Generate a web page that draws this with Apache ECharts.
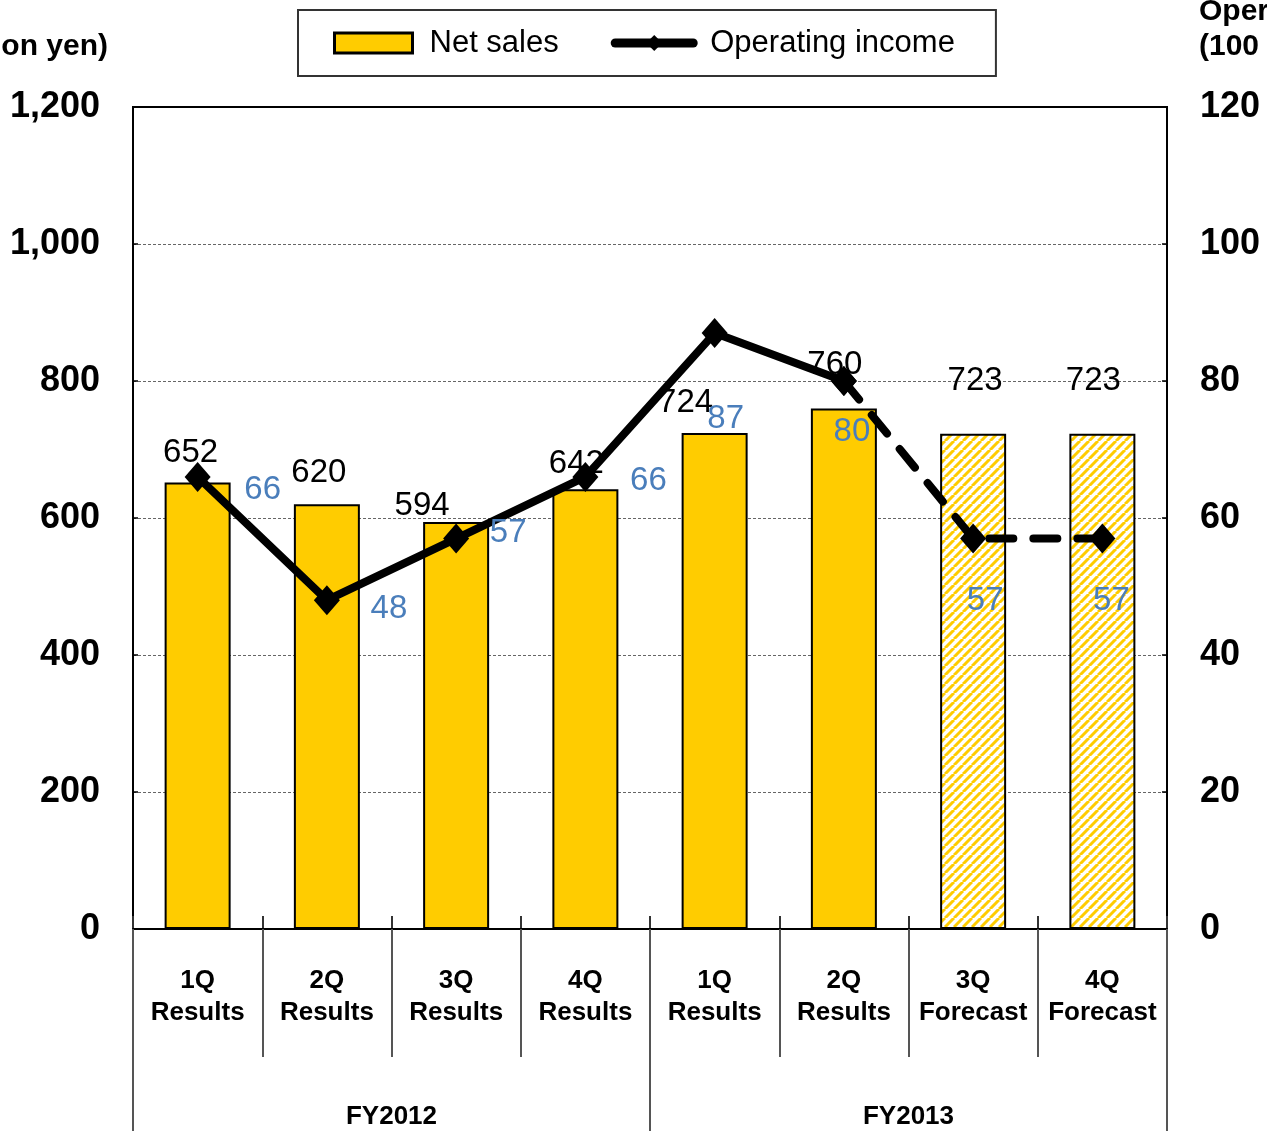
<!DOCTYPE html>
<html>
<head>
<meta charset="utf-8">
<script src="https://cdn.jsdelivr.net/npm/echarts@6/dist/echarts.min.js"></script>
<style>
html,body{margin:0;padding:0;background:#fff;}
#chart{width:1267px;height:1131px;}
</style>
</head>
<body>
<div id="chart"></div>
<script>
// ---- data ----
const quarters = ['1Q', '2Q', '3Q', '4Q', '1Q', '2Q', '3Q', '4Q'];
const periodKinds = ['Results', 'Results', 'Results', 'Results', 'Results', 'Results', 'Forecast', 'Forecast'];
const fiscalYears = ['FY2012', 'FY2013'];
const netSales = [652, 620, 594, 642, 724, 760, 723, 723];
const operatingIncome = [66, 48, 57, 66, 87, 80, 57, 57];
const salesAxis = { min: 0, max: 1200, interval: 200 };
const incomeAxis = { min: 0, max: 120, interval: 20 };
const leftTitle = '(100 million yen)';
const rightTitle = 'Operating income\n(100 million yen)';

// ---- styles (label nudges, not data) ----
const salesLabelOffset = [[-7, -13], [-8, -15], [-34, 0], [-9, -9], [-29, -14], [-9, -27], [2, -36], [-9, -36]];
const incomeLabelOffset = [[65, 13], [62, 9], [52, -6], [63, 4], [11, 86], [8, 51], [12, 62], [9, 62]];

const FONT = '"Liberation Sans", Arial, sans-serif';
const YELLOW = '#FFCC00';
const BLUE = '#4A7EBB';

// hatch pattern for forecast bars
function makeHatch() {
  const s = 9;
  const c = document.createElement('canvas');
  c.width = s; c.height = s;
  const g = c.getContext('2d');
  g.fillStyle = '#fff';
  g.fillRect(0, 0, s, s);
  g.strokeStyle = YELLOW;
  g.lineWidth = 3;
  for (let k = -1; k <= 1; k++) {
    g.beginPath();
    g.moveTo(k * s, s);
    g.lineTo(k * s + s, 0);
    g.stroke();
  }
  return c;
}
const hatch = makeHatch();

const categories = quarters.map((q, i) => q + '\n' + periodKinds[i]);
const firstForecast = periodKinds.indexOf('Forecast');

const barData = netSales.map((v, i) => {
  const item = {
    value: v,
    label: { offset: salesLabelOffset[i] }
  };
  if (periodKinds[i] === 'Forecast') {
    item.itemStyle = { color: { image: hatch, repeat: 'repeat' } };
  }
  return item;
});

const solidData = operatingIncome.map((v, i) => i < firstForecast ?
  { value: v, label: { show: true, offset: incomeLabelOffset[i] } } : '-');
const dashedData = operatingIncome.map((v, i) => i >= firstForecast - 1 ?
  { value: v, label: { show: i >= firstForecast, offset: incomeLabelOffset[i] } } : '-');

const chart = echarts.init(document.getElementById('chart'), null, { renderer: 'canvas' });

const lineLabel = {
  show: true,
  position: 'inside',
  color: BLUE,
  fontSize: 33,
  fontFamily: FONT
};

const option = {
  animation: false,
  backgroundColor: '#fff',
  grid: {
    left: 133, right: 100, top: 107, bottom: 202,
    show: true, borderColor: '#000', borderWidth: 2, backgroundColor: 'transparent'
  },
  legend: {
    left: 298, top: 10,
    padding: [15, 41, 15, 35],
    itemGap: 52,
    itemWidth: 78,
    itemHeight: 20,
    borderColor: '#333',
    borderWidth: 2,
    textStyle: { fontSize: 31, fontFamily: FONT, color: '#000', lineHeight: 36, padding: [0, 0, 0, 12] },
    data: [
      { name: 'Net sales', icon: 'rect', itemStyle: { borderWidth: 3, borderColor: '#000' } },
      { name: 'Operating income', lineStyle: { width: 9, cap: 'round', type: 'solid' }, itemStyle: { color: '#000' } }
    ]
  },
  xAxis: [
    {
      type: 'category', data: categories, position: 'bottom', offset: 0, boundaryGap: true,
      axisLine: { show: true, lineStyle: { color: '#000', width: 2 } },
      axisTick: { show: true, interval: 0, inside: false, length: 128, lineStyle: { color: '#555', width: 2 } },
      axisLabel: {
        interval: 0, margin: 36, color: '#000', fontWeight: 'bold', fontSize: 26,
        fontFamily: FONT, lineHeight: 32, align: 'center'
      },
      splitLine: { show: false }, z: 5
    },
    {
      type: 'category', data: categories, position: 'bottom', offset: 0, boundaryGap: true,
      axisLine: { show: false },
      axisTick: { show: true, interval: 0, inside: true, length: 13, lineStyle: { color: '#333', width: 2 } },
      axisLabel: { show: false }, splitLine: { show: false }
    },
    {
      type: 'category', data: fiscalYears, position: 'bottom', offset: 0, boundaryGap: true,
      axisLine: { show: false },
      axisTick: { show: true, interval: 0, inside: false, length: 210, lineStyle: { color: '#555', width: 2 } },
      axisLabel: { interval: 0, margin: 175, color: '#000', fontWeight: 'bold', fontSize: 26, fontFamily: FONT },
      splitLine: { show: false }
    }
  ],
  yAxis: [
    {
      type: 'value', min: salesAxis.min, max: salesAxis.max, interval: salesAxis.interval, position: 'left',
      axisLine: { show: true, lineStyle: { color: '#000', width: 2 } },
      axisTick: { show: true, inside: true, length: 5, lineStyle: { color: '#000', width: 1.5 } },
      axisLabel: {
        margin: 33, color: '#000', fontWeight: 'bold', fontSize: 36, fontFamily: FONT,
        formatter: v => v.toLocaleString('en-US')
      },
      splitLine: { show: true, showMaxLine: false, showMinLine: false, lineStyle: { color: '#666', width: 1, type: [3, 2] } }
    },
    {
      type: 'value', min: incomeAxis.min, max: incomeAxis.max, interval: incomeAxis.interval, position: 'right',
      axisLine: { show: true, lineStyle: { color: '#000', width: 2 } },
      axisTick: { show: true, inside: true, length: 5, lineStyle: { color: '#000', width: 1.5 } },
      axisLabel: { margin: 33, color: '#000', fontWeight: 'bold', fontSize: 36, fontFamily: FONT },
      splitLine: { show: false }
    }
  ],
  graphic: [
    {
      type: 'text', x: 108, y: 47, z: 10,
      style: {
        text: leftTitle, align: 'right', textAlign: 'right', verticalAlign: 'middle', textVerticalAlign: 'middle',
        font: 'bold 30px ' + FONT, fill: '#000'
      }
    },
    {
      type: 'text', x: 1199, y: -6, z: 10,
      style: {
        text: rightTitle, align: 'left', textAlign: 'left', verticalAlign: 'top', textVerticalAlign: 'top',
        font: 'bold 30px ' + FONT, fill: '#000', lineHeight: 35
      }
    }
  ],
  series: [
    {
      name: 'Net sales', type: 'bar', xAxisIndex: 0, yAxisIndex: 0,
      barWidth: 66,
      data: barData,
      itemStyle: { color: YELLOW, borderColor: '#000', borderWidth: 2 },
      label: {
        show: true, position: 'top', distance: 0, color: '#000', fontSize: 33, fontFamily: FONT
      },
      z: 2
    },
    {
      name: 'Operating income', type: 'line', xAxisIndex: 0, yAxisIndex: 1,
      data: solidData,
      symbol: 'diamond', symbolSize: [26, 30],
      itemStyle: { color: '#000' },
      lineStyle: { color: '#000', width: 8, cap: 'round', join: 'round' },
      label: lineLabel,
      z: 3
    },
    {
      name: 'Operating income', type: 'line', xAxisIndex: 0, yAxisIndex: 1,
      data: dashedData,
      symbol: 'diamond', symbolSize: [26, 30],
      itemStyle: { color: '#000' },
      lineStyle: { color: '#000', width: 8, type: [24, 20], cap: 'round' },
      label: lineLabel,
      z: 3
    }
  ]
};
chart.setOption(option);
</script>
</body>
</html>
